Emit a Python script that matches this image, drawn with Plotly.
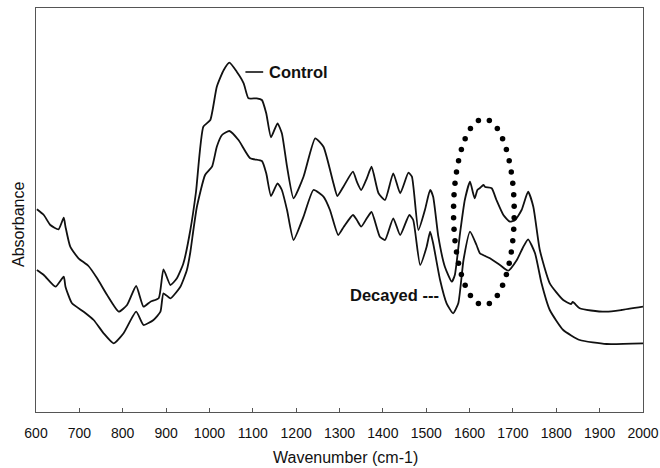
import numpy as np
import plotly.graph_objects as go

# ---- data (absorbance in arbitrary units) ----
control_wn = [602, 618, 633, 652, 664, 668, 679, 698, 721, 741, 764, 791, 810, 831, 848,
              864, 883, 894, 910, 925, 940, 956, 969, 986, 1002, 1017, 1033, 1046, 1063,
              1079, 1090, 1109, 1121, 1131, 1142, 1157, 1167, 1179, 1194, 1217, 1244, 1263,
              1286, 1295, 1309, 1331, 1340, 1350, 1363, 1374, 1390, 1405, 1424, 1440, 1459,
              1467, 1482, 1497, 1509, 1516, 1528, 1543, 1559, 1566, 1578, 1589, 1601, 1608,
              1612, 1618, 1624, 1632, 1636, 1651, 1662, 1678, 1693, 1705, 1720, 1735, 1747,
              1762, 1785, 1816, 1834, 1838, 1854, 1880, 1916, 1950, 2000]
control_abs = [202.7, 197, 187, 182.7, 194.3, 185.3, 165.3, 153.7, 146, 133.7, 117, 100.3,
               107, 126, 105.3, 110.3, 113.7, 142.7, 127, 133.7, 148.7, 182, 220, 285.3, 292,
               325.3, 342, 349.3, 340.3, 328.7, 313.7, 313.7, 312, 298.7, 274.7, 288.7, 278.7,
               245.3, 213.7, 235.3, 273.7, 265.3, 228.7, 216, 225.3, 240.3, 230.3, 222, 233.7,
               245.3, 218.7, 212, 238.7, 218.7, 239.3, 235.3, 182, 202, 222, 215.3, 175.3,
               145.3, 130.3, 137, 178.7, 212, 230.3, 219, 213.7, 222, 224, 227, 225, 223.7,
               212, 197, 190.3, 192, 202, 220.3, 205.3, 162, 128.7, 112, 108, 110, 103.7,
               101.5, 100.3, 102, 105.3]

decayed_wn = [602, 618, 645, 664, 668, 683, 710, 733, 756, 779, 802, 831, 848, 871, 887,
              894, 910, 933, 948, 956, 963, 971, 990, 1006, 1017, 1029, 1046, 1067, 1094,
              1121, 1131, 1142, 1157, 1167, 1179, 1194, 1217, 1240, 1263, 1278, 1297, 1310,
              1331, 1340, 1350, 1363, 1374, 1393, 1405, 1424, 1440, 1461, 1470, 1486, 1501,
              1509, 1516, 1532, 1547, 1562, 1574, 1586, 1601, 1616, 1624, 1647, 1670, 1689,
              1709, 1724, 1735, 1751, 1766, 1785, 1816, 1854, 1916, 2000]
decayed_abs = [142, 137, 125.3, 135.3, 125.3, 108.7, 100.3, 92, 78.7, 68.7, 78.7, 100.3, 87,
               92, 100.3, 118.7, 113.7, 125.3, 142, 160, 182, 205, 237, 245.3, 265.3, 277,
               281, 272, 253.7, 251, 238.7, 216, 228.7, 222, 202, 172, 195.3, 222, 215.3,
               202, 177, 185.3, 197, 192, 185.3, 193.7, 200, 175.3, 172, 193.7, 177, 197,
               192, 147, 165.3, 180.3, 168.7, 132, 108.7, 98.7, 108.7, 152, 180.3, 167,
               158.7, 153.7, 147, 141.3, 152, 165.3, 172.7, 158.7, 128.7, 102, 82, 72, 68,
               68.7]

x_ticks = list(range(600, 2001, 100))
x_tick_labels = [str(v) for v in x_ticks]

# ---- layout constants ----
W, H = 660, 468
M_L, M_R, M_T, M_B = 36, 17, 8, 56
X_RANGE = [600, 2000]
Y_RANGE = [0, 404]
FONT = "Arial, Liberation Sans, sans-serif"
LINE_COL = "#111111"
AXIS_COL = "#555555"

# dotted ellipse marking the 1600-1700 cm-1 region (centre/radii in data units)
ELL_CX, ELL_CY, ELL_RX, ELL_RY = 1633, 200, 70, 93
ELL_DOTS = 36

plot_w = W - M_L - M_R
plot_h = H - M_T - M_B
sx = plot_w / (X_RANGE[1] - X_RANGE[0])
sy = plot_h / (Y_RANGE[1] - Y_RANGE[0])
t = np.linspace(0, 2 * np.pi, 4000)
ex = ELL_CX + ELL_RX * np.cos(t)
ey = ELL_CY + ELL_RY * np.sin(t)
seg = np.hypot(np.diff(ex) * sx, np.diff(ey) * sy)
s = np.concatenate([[0], np.cumsum(seg)])
targets = np.linspace(0, s[-1], ELL_DOTS, endpoint=False) + s[-1] / ELL_DOTS / 2
dot_x = np.interp(targets, s, ex)
dot_y = np.interp(targets, s, ey)

spectrum_line = dict(color=LINE_COL, width=1.8, shape="spline", smoothing=0.5)

fig = go.Figure()
fig.add_trace(go.Scatter(x=control_wn, y=control_abs, mode="lines", name="Control",
                         line=spectrum_line))
fig.add_trace(go.Scatter(x=decayed_wn, y=decayed_abs, mode="lines", name="Decayed",
                         line=spectrum_line))
fig.add_trace(go.Scatter(x=dot_x, y=dot_y, mode="markers", hoverinfo="skip",
                         marker=dict(color="#000000", size=5.5), showlegend=False))

# "Control" label with leader line
fig.add_shape(type="line", xref="x", yref="y", x0=1083, x1=1124, y0=340, y1=340,
              line=dict(color=LINE_COL, width=1.6))
fig.add_annotation(x=1133, y=340, xref="x", yref="y", text="<b>Control</b>",
                   showarrow=False, xanchor="left", yanchor="middle",
                   font=dict(family=FONT, size=16.5, color="#111111"))
fig.add_annotation(x=1533, y=117, xref="x", yref="y", text="<b>Decayed ---</b>",
                   showarrow=False, xanchor="right", yanchor="middle",
                   font=dict(family=FONT, size=16.5, color="#111111"))

# axis titles
fig.add_annotation(x=(345 - M_L) / plot_w, y=(M_T + plot_h - 457) / plot_h,
                   xref="paper", yref="paper", text="Wavenumber (cm-1)", showarrow=False,
                   xanchor="center", yanchor="middle",
                   font=dict(family=FONT, size=16, color="#111111"))
fig.add_annotation(x=(18 - M_L) / plot_w, y=(M_T + plot_h - 225) / plot_h,
                   xref="paper", yref="paper", text="Absorbance", showarrow=False,
                   textangle=-90, xanchor="center", yanchor="middle",
                   font=dict(family=FONT, size=16, color="#111111"))

fig.update_layout(
    width=W, height=H,
    margin=dict(l=M_L, r=M_R, t=M_T, b=M_B, autoexpand=False),
    paper_bgcolor="white", plot_bgcolor="white",
    showlegend=False,
    font=dict(family=FONT, color="#111111"),
    xaxis=dict(range=X_RANGE, tickvals=x_ticks, ticktext=x_tick_labels,
               ticks="inside", ticklen=4, tickwidth=1, tickcolor=AXIS_COL,
               showline=True, linecolor=AXIS_COL, linewidth=1.3, mirror=True,
               showgrid=False, zeroline=False, ticklabelstandoff=8, automargin=False,
               tickfont=dict(family=FONT, size=14, color="#111111")),
    yaxis=dict(range=Y_RANGE, showticklabels=False, ticks="", automargin=False,
               showline=True, linecolor=AXIS_COL, linewidth=1.3, mirror=True,
               showgrid=False, zeroline=False),
)

fig.write_html(
    "out.html",
    config={"displayModeBar": False},
    post_script="document.body.style.margin='0';document.body.style.padding='0';"
                "document.documentElement.style.overflow='hidden';",
)
